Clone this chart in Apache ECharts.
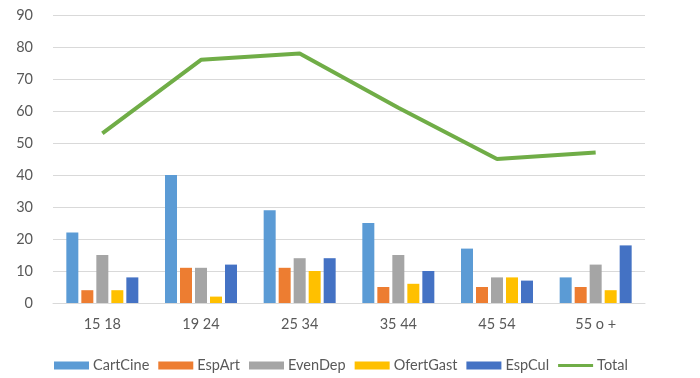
<!DOCTYPE html>
<html>
<head>
<meta charset="utf-8">
<script src="https://cdn.jsdelivr.net/npm/echarts@6/dist/echarts.min.js"></script>
<style>
  html, body { margin: 0; padding: 0; background: #fff; }
  #chart { width: 700px; height: 378px; }
</style>
</head>
<body>
<div id="chart"></div>
<script>
var categories = ['15 18', '19 24', '25 34', '35 44', '45 54', '55 o +'];
var cartCine = [22, 40, 29, 25, 17, 8];
var espArt = [4, 11, 11, 5, 5, 5];
var evenDep = [15, 11, 14, 15, 8, 12];
var ofertGast = [4, 2, 10, 6, 8, 4];
var espCul = [8, 12, 14, 10, 7, 18];
var total = [53, 76, 78, 61, 45, 47];

var myChart = echarts.init(document.getElementById('chart'));

function bar(name, data, color) {
    return {
        name: name,
        type: 'bar',
        data: data,
        barWidth: 12,
        barGap: '25%',
        itemStyle: { color: color }
    };
}

var option = {
    animation: false,
    textStyle: { fontFamily: 'Lato' },
    grid: { left: 53, right: 55, top: 15, bottom: 75 },
    legend: {
        top: 353,
        left: 49,
        itemWidth: 35,
        itemHeight: 8,
        itemGap: 9,
        textStyle: { color: '#595959', fontSize: 14.5, fontFamily: 'Lato', padding: [0, 0, 0, -1] },
        data: [
            { name: 'CartCine', icon: 'rect' },
            { name: 'EspArt', icon: 'rect' },
            { name: 'EvenDep', icon: 'rect' },
            { name: 'OfertGast', icon: 'rect' },
            { name: 'EspCul', icon: 'rect' },
            { name: 'Total', icon: 'path://M0,0 M35,8 M0,2.5 L35,2.5 L35,5.5 L0,5.5 Z' }
        ]
    },
    xAxis: {
        type: 'category',
        data: categories,
        axisLine: { lineStyle: { color: '#d9d9d9' } },
        axisTick: { show: false },
        axisLabel: { color: '#595959', fontSize: 14.5, margin: 14 }
    },
    yAxis: {
        type: 'value',
        min: 0,
        max: 90,
        interval: 10,
        axisLine: { show: false },
        axisTick: { show: false },
        axisLabel: { color: '#595959', fontSize: 14.5, margin: 20 },
        splitLine: { lineStyle: { color: '#d9d9d9' } }
    },
    series: [
        bar('CartCine', cartCine, '#5B9BD5'),
        bar('EspArt', espArt, '#ED7D31'),
        bar('EvenDep', evenDep, '#A5A5A5'),
        bar('OfertGast', ofertGast, '#FFC000'),
        bar('EspCul', espCul, '#4472C4'),
        {
            name: 'Total',
            type: 'line',
            data: total,
            symbol: 'none',
            lineStyle: { color: '#70AD47', width: 4 },
            itemStyle: { color: '#70AD47' }
        }
    ]
};

myChart.setOption(option);
</script>
</body>
</html>
